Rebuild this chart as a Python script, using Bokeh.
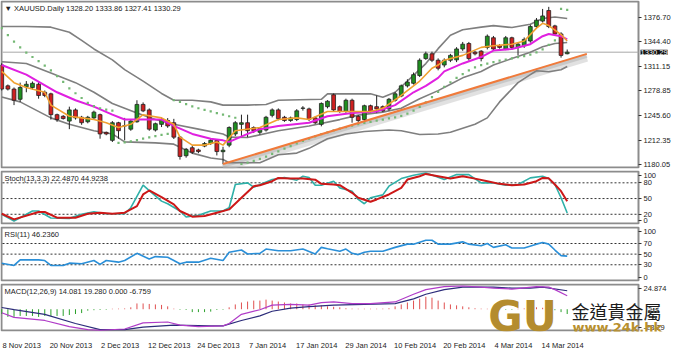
import numpy as np
from bokeh.plotting import figure
from bokeh.models import Range1d, FixedTicker, Label, ColumnDataSource
from bokeh.layouts import column
from bokeh.embed import file_html
from bokeh.resources import INLINE
from bokeh.transform import dodge

FONT = "Liberation Sans"
FS = "7.5px"

# ---------------- data ----------------
bar_open = [1313.1,1285.2,1280.9,1267.2,1283.9,1283.0,1287.3,1276.6,1274.5,1246.6,
            1244.4,1238.0,1253.0,1243.1,1237.1,1242.3,1246.6,1222.9,1212.2,1235.8,
            1231.5,1227.2,1237.1,1260.3,1253.0,1226.0,1233.6,1238.8,1235.8,1216.5,
            1191.6,1202.3,1199.3,1204.5,1208.0,1212.2,1197.0,1205.8,1220.8,1233.6,
            1235.8,1229.4,1223.0,1226.0,1245.7,1253.0,1243.1,1238.8,1240.1,1255.1,
            1254.3,1242.3,1233.6,1257.3,1273.2,1257.3,1250.9,1265.9,1244.4,1240.1,
            1258.6,1257.3,1257.3,1254.3,1265.9,1271.5,1285.2,1288.6,1299.0,1321.7,
            1328.1,1319.5,1313.1,1319.5,1320.0,1334.6,1341.9,1330.3,1331.6,1336.7,
            1349.6,1338.9,1334.6,1349.6,1336.7,1338.9,1345.3,1364.6,1371.9,1386.1,
            1365.5,1354.7,1328.20]
bar_high = [1315.5,1287.0,1283.0,1289.5,1291.6,1291.0,1291.6,1279.0,1276.0,1248.0,
            1246.0,1257.3,1255.0,1245.0,1245.0,1252.0,1248.0,1224.0,1238.0,1237.0,
            1242.3,1240.0,1265.9,1263.0,1255.0,1236.0,1243.0,1242.0,1241.0,1218.0,
            1202.0,1205.0,1201.0,1210.0,1214.0,1214.0,1203.6,1231.0,1238.0,1246.6,
            1246.6,1231.0,1230.0,1245.0,1255.0,1255.0,1245.0,1244.0,1254.0,1258.0,
            1256.0,1244.0,1263.0,1266.0,1275.0,1259.0,1268.0,1268.0,1246.0,1260.0,
            1260.0,1272.3,1259.0,1269.0,1277.0,1287.0,1294.0,1303.0,1322.0,1331.0,
            1331.0,1322.0,1322.0,1328.0,1337.0,1344.0,1344.0,1332.0,1333.0,1354.0,
            1352.0,1341.0,1352.0,1351.0,1343.0,1350.0,1367.0,1376.0,1388.2,1391.0,
            1367.0,1357.0,1333.86]
bar_low = [1279.0,1279.0,1259.4,1263.7,1276.6,1280.0,1268.0,1270.0,1240.0,1237.0,
           1240.0,1227.2,1240.0,1233.0,1235.0,1240.0,1214.4,1219.0,1210.0,1214.4,
           1212.2,1225.0,1235.8,1250.0,1225.0,1224.0,1230.0,1229.0,1214.0,1186.4,
           1189.0,1194.0,1195.0,1203.0,1206.0,1192.0,1180.5,1203.0,1218.0,1216.5,
           1216.5,1222.0,1220.0,1224.0,1243.0,1239.0,1237.0,1237.0,1238.0,1252.0,
           1238.0,1234.0,1231.0,1255.0,1251.0,1249.0,1249.0,1235.8,1236.0,1238.0,
           1249.0,1248.7,1250.0,1252.0,1264.0,1270.0,1283.0,1287.0,1297.0,1320.0,
           1317.0,1306.0,1310.0,1317.0,1317.0,1332.0,1319.0,1326.0,1318.0,1334.0,
           1332.0,1335.0,1333.0,1334.0,1326.0,1336.0,1343.0,1362.0,1370.0,1362.5,
           1352.0,1323.0,1327.41]
bar_close = [1280.9,1280.9,1265.9,1283.0,1287.3,1288.6,1272.3,1272.3,1246.6,1240.1,
             1241.4,1253.0,1242.3,1235.8,1243.1,1250.0,1220.8,1220.8,1235.8,1225.1,
             1231.9,1238.0,1260.3,1251.7,1227.2,1234.5,1240.1,1231.5,1216.5,1190.7,
             1200.2,1196.3,1197.2,1207.9,1212.2,1197.2,1199.0,1229.4,1235.8,1235.8,
             1225.1,1225.1,1228.5,1243.1,1253.0,1241.4,1238.8,1242.3,1251.7,1255.5,
             1240.1,1235.8,1261.6,1264.6,1253.0,1250.9,1265.9,1243.1,1238.8,1258.6,
             1250.9,1254.3,1251.7,1267.2,1274.5,1285.2,1290.3,1300.2,1319.5,1328.1,
             1319.5,1308.8,1319.5,1326.0,1334.6,1341.0,1321.7,1328.1,1321.7,1351.7,
             1334.6,1336.7,1349.6,1336.7,1341.0,1347.4,1364.6,1373.2,1378.8,1364.6,
             1354.7,1326.0,1330.29]

bb_up_bar = [0,4,8,11,13,15,18,20,23,26,28,31,34,36,40,43,45,52,53,60,62,64,66,69,71,73,75,78,80,83,86,88,90,92]
bb_up_val = [1364.6,1364.6,1363.8,1357.0,1346.0,1334.6,1320.0,1307.0,1291.6,1275.0,1265.9,1265.9,1263.7,1259.4,
             1259.4,1260.3,1265.9,1267.2,1274.5,1274.5,1269.9,1276.6,1291.6,1315.0,1335.0,1353.0,1360.3,1363.8,
             1365.9,1363.3,1367.6,1375.4,1377.5,1375.4]
bb_mid_bar = [0,4,8,12,15,18,22,25,28,32,36,37,40,45,50,55,58,62,65,68,71,73,75,78,80,83,86,88,90,92]
bb_mid_val = [1317.4,1315.2,1302.4,1289.5,1276.6,1261.6,1248.7,1240.1,1233.7,1227.2,1220.8,1216.5,1216.0,1225.1,
              1231.5,1240.0,1246.0,1250.0,1255.1,1268.0,1278.8,1287.3,1295.9,1304.5,1313.1,1321.7,1330.3,1337.6,
              1341.9,1343.2]
bb_low_bar = [0,3,8,11,15,18,20,25,28,31,34,36,37,42,45,48,50,53,56,59,63,65,68,71,73,77,79,81,84,86,87,89,91,92]
bb_low_val = [1270.2,1263.7,1242.3,1233.7,1225.1,1220.8,1210.1,1208.8,1207.1,1195.1,1188.6,1186.5,1182.2,1182.2,
              1192.9,1195.1,1201.5,1214.4,1220.8,1224.0,1226.0,1225.1,1220.0,1220.8,1223.0,1233.7,1242.3,1263.7,
              1289.5,1300.2,1305.4,1304.1,1306.7,1311.0]
ma_slow_bar = [0,4,9,12,15,18,20,23,26,28,31,34,36,37,40,42,45,50,53,57,61,64,67,69,71,72,75,78,80,83,86,88,89,91,92]
ma_slow_val = [1313.1,1300.2,1276.6,1265.9,1257.3,1246.6,1240.1,1240.1,1240.1,1231.5,1220.8,1214.4,1212.2,1210.1,
               1220.8,1227.2,1231.5,1235.8,1244.4,1248.7,1250.9,1259.4,1276.6,1285.2,1295.9,1304.5,1315.2,1323.8,
               1332.4,1334.6,1341.0,1351.7,1354.7,1351.7,1347.4]
ma_fast_bar = [0,2,4,7,8,11,13,15,17,19,21,23,26,28,29,31,33,35,36,38,42,45,48,50,53,57,60,62,65,68,70,71,72,75,
               78,80,83,85,87,88,89,91,92]
ma_fast_val = [1304.5,1289.5,1283.0,1276.6,1259.4,1244.4,1242.3,1240.1,1235.8,1229.4,1233.7,1246.6,1242.3,1233.7,
               1216.5,1205.8,1205.8,1210.1,1205.8,1225.1,1229.4,1240.1,1242.3,1240.1,1250.9,1250.9,1250.9,1255.1,
               1272.3,1291.6,1308.8,1313.1,1319.5,1326.0,1336.7,1338.9,1341.0,1345.3,1362.5,1368.9,1365.9,1353.9,
               1345.3]
sar_val = [1362.5,1353.0,1344.4,1336.7,1329.8,1323.8,1318.3,1312.2,1305.8,1298.1,
           1290.4,1281.8,1275.3,1268.9,1262.4,1258.1,1255.2,1253.4,1252.1,1208.8,
           1209.6,1210.9,1212.6,1214.4,1216.1,1217.8,1219.5,1220.8,1265.9,1263.7,
           1260.7,1257.7,1255.2,1253.0,1250.9,1248.7,1246.6,1244.5,1242.5,1180.5,
           1182.5,1184.8,1187.5,1190.5,1194.0,1197.5,1201.0,1204.5,1208.0,1211.5,
           1214.5,1217.5,1220.5,1223.0,1225.5,1228.0,1230.0,1232.0,1234.0,1235.5,
           1237.0,1238.5,1240.0,1241.5,1243.0,1245.0,1248.0,1252.0,1257.0,1263.0,
           1270.0,1277.0,1284.0,1290.0,1296.0,1301.0,1306.0,1310.0,1313.0,1315.0,
           1317.0,1319.0,1320.5,1322.0,1323.5,1325.0,1327.0,1330.0,1334.0,1340.0,
           1346.0,1388.2,1387.0]
trend_bar = [36, 95.2]
trend_val = [1180.5, 1328.0]
last_price = 1330.29

stoch_k_bar = [0,2,5,6,8,11,13,15,17,20,21,23,24,26,27,29,30,32,34,36,37,38,40,41,44,46,48,49,50,51,52,54,55,57,58,
               59,60,62,63,65,67,69,70,72,74,76,78,80,82,84,86,88,89,90,91,92]
stoch_k_val = [20,7.2,26.2,26.2,13,12.2,20,24.9,21,21,32.5,75.5,65,45.1,40,26.2,14.8,18,26.2,26.2,32.5,76.8,79.9,
               71.7,86.2,90,85,92.6,90,75.5,75.5,83.1,70.4,64.1,48.3,40.1,51.5,57,73.6,88.1,94.5,98.9,95,86.2,95.7,
               95.7,79.9,79.9,75.5,76.8,89.4,92.6,88.1,76.8,51.5,22.487]
stoch_d_bar = [0,2,6,7,9,12,14,16,18,20,22,23,24,26,28,29,31,33,35,37,39,41,42,44,45,47,49,51,52,54,55,57,58,60,61,
               63,65,66,68,69,71,73,75,77,79,81,83,85,87,88,89,90,91,92]
stoch_d_val = [21,10.3,24.3,24.3,13.5,13.5,21,23,21,23,35.6,57.8,65.4,52.7,38.8,26.2,15.4,16.7,23,29.3,51.5,73.6,
               75.5,83.1,89.4,88.1,88.1,86,78,76.8,75.5,61,51.5,43.9,48.3,57.8,70.4,86.2,92.6,97,92.6,88.1,92.6,88,
               83.1,78,75.5,76.8,83.1,89.4,88.5,76.8,64.1,44.9238]
stoch_levels = [80, 50, 20]
stoch_ticks = [100, 80, 50, 20, 0]

rsi_bar = [0,2,3,6,7,8,10,11,13,15,16,17,19,20,22,24,25,27,29,30,32,34,36,37,39,40,42,43,45,47,49,51,52,53,54,55,
           56,57,58,59,60,62,64,66,67,69,70,71,73,75,76,78,79,80,82,83,85,87,88,89,90,91,92]
rsi_val = [33,28.7,39.2,39.2,38,28.7,28.7,33,31.8,38,30.6,38,34.9,38,51.5,41,45.4,44,31.8,34.9,34.9,42.3,38,53.4,
           57.7,50.3,51.5,59.6,56.5,56.5,59.6,50.3,62.7,60,57.7,55.3,59.6,51.5,49.1,53.4,55.3,55.3,62.7,68.8,68.8,
           76.2,76.2,68.8,68.8,73.1,68.8,65.7,70,62.7,67.6,61.4,61.4,68.8,71.9,68.8,57.7,47.2,46.236]
rsi_levels = [70, 50, 30]
rsi_ticks = [100, 70, 50, 30, 0]

macd_main_bar = [0,2,7,11,14,16,20,23,27,29,32,36,37,39,42,44,47,50,52,54,57,60,64,67,69,72,75,78,80,83,87,89,90,92]
macd_main_val = [-3.7,-8.5,-11.7,-18.1,-21.3,-21.9,-20.6,-14.2,-13.3,-16.5,-18.1,-17.4,-14.9,-5.3,-0.5,4.3,5.0,4.3,
                 6.9,7.6,5.9,5.9,7.6,15.6,20.4,23.6,24.2,23.0,22.0,21.0,23.6,23.0,20.4,14.081]
macd_sig_bar = [0,2,7,12,16,20,23,28,34,36,39,42,44,47,50,54,59,64,67,69,72,75,80,83,86,88,92]
macd_sig_val = [1.8,-0.5,-5.3,-14.9,-21.3,-21.3,-18.7,-16.5,-17.4,-17.4,-11.7,-6.9,-2.1,1.1,2.7,4.3,5.0,5.9,10.8,
                15.6,20.4,23.0,23.0,22.0,22.0,23.0,19.28]
macd_hist = [-5,-8,-8,-7,-7,-7,-8,-7,-7,-7,-7,-6,-5,-4,-1.5,-1,-0.8,-0.6,0.5,0.6,
             0.8,2,6,6,5.5,5,4.5,3,0.6,-0.6,-0.8,-3,-3,-3,-2.5,-0.8,-0.6,2,5,7,
             8,9,9,10,9,8,7,6,6,5,5,4,4,3,2.5,2,1,0.6,0.5,0.5,
             0.5,0.5,0.6,1,3,5,7,9,11,13,12,9,7,5,4,3,2,1,0.6,0.5,
             -0.5,-0.5,-0.6,-0.6,0.5,0.8,1.5,2,1.5,0.6,-1,-3,-5]

price_ticks = [1180.05, 1212.35, 1245.60, 1278.85, 1311.15, 1344.40, 1376.70]
price_tick_labels = ["1180.05", "1212.35", "1245.60", "1278.85", "1311.15", "1344.40", "1376.70"]
macd_tick_labels = ["24.874", "-23.29"]
date_bars = [0, 8, 16, 24, 32, 40, 48, 56, 64, 72, 80, 88]
date_labels = ["8 Nov 2013", "20 Nov 2013", "2 Dec 2013", "12 Dec 2013", "24 Dec 2013", "7 Jan 2014",
               "17 Jan 2014", "29 Jan 2014", "10 Feb 2014", "20 Feb 2014", "4 Mar 2014", "14 Mar 2014"]

title_main = "\u25bc XAUUSD.Daily  1328.20 1333.86 1327.41 1330.29"
title_stoch = "Stoch(13,3,3) 22.4870 44.9238"
title_rsi = "RSI(11) 46.2360"
title_macd = "MACD(12,26,9) 14.081 19.280 0.000 -6.759"

# ---------------- layout ----------------
TOTAL_W = 671          # full frame width (chart area + price-scale area)
CHART_W = 638          # width of the bordered chart area
XR = (-0.2, 103.6)     # bar range of the bordered chart area
PPB = CHART_W / (XR[1] - XR[0])
X_FULL = XR[0] + TOTAL_W / PPB
MAIN_H, MAIN_Y = 168, (1174.5, 1399.5)
ST_H, ST_Y = 54, (0.5, 103.5)
RS_H, RS_Y = 55, (-1.5, 102.0)
MC_H, MC_Y = 48, (-23.2, 26.8)
BORDER = "#8c8c8c"

def xpx(px):
    return XR[0] + px / PPB

def ypx(rng, fh, px):
    return rng[1] - px * (rng[1] - rng[0]) / fh

def inner_ticks(vals, rng, fh, edge_px=4.5):
    # keep edge labels inside the panel, like the terminal does
    per_px = (rng[1] - rng[0]) / fh
    out = []
    for v in vals:
        if v > rng[1] - edge_px * per_px:
            out.append(ypx(rng, fh, edge_px))
        elif v < rng[0] + edge_px * per_px:
            out.append(ypx(rng, fh, fh - edge_px))
        else:
            out.append(float(v))
    return out

x_range = Range1d(XR[0], X_FULL)

def make_fig(fh, yr, bottom_axis=False):
    p = figure(frame_width=TOTAL_W, frame_height=fh, x_range=x_range, y_range=Range1d(*yr),
               output_backend="svg", toolbar_location=None, y_axis_location="right",
               x_axis_location="below" if bottom_axis else None,
               min_border_left=0, min_border_right=0, min_border_top=0,
               min_border_bottom=0 if bottom_axis else 2,
               background_fill_color="white", border_fill_color="white",
               outline_line_color=None)
    p.grid.visible = False
    p.yaxis.fixed_location = XR[1]
    for ax in p.yaxis:
        ax.axis_line_color = None
        ax.major_tick_out = 3
        ax.major_tick_in = 0
        ax.major_tick_line_color = "#333333"
        ax.minor_tick_line_color = None
        ax.major_label_text_font = FONT
        ax.major_label_text_font_size = FS
        ax.major_label_text_color = "#222222"
        ax.major_label_standoff = 2
    # bordered chart area
    p.quad(left=[xpx(1)], right=[XR[1]], bottom=[ypx(yr, fh, fh - 1)], top=[ypx(yr, fh, 1)],
           fill_color=None, line_color=BORDER, line_width=2)
    return p

def set_ticks(p, vals, labels, rng, fh):
    pos = inner_ticks(vals, rng, fh)
    p.yaxis.ticker = FixedTicker(ticks=pos)
    p.yaxis.major_label_overrides = dict(zip(pos, labels))

def panel_title(p, rng, fh, text):
    p.add_layout(Label(x=xpx(4), y=ypx(rng, fh, 3), text=text, text_font=FONT,
                       text_font_size=FS, text_color="#222222", text_baseline="top"))

# ---------------- main price panel ----------------
pm = make_fig(MAIN_H, MAIN_Y)
set_ticks(pm, price_ticks, price_tick_labels, MAIN_Y, MAIN_H)

idx = np.arange(len(bar_open))
o = np.array(bar_open); c = np.array(bar_close)
up = c >= o
csrc = ColumnDataSource(dict(x=idx, hi=bar_high, lo=bar_low,
                             top=np.maximum(o, c), bot=np.minimum(o, c),
                             col=np.where(up, "#1f8f1f", "#cf2020")))

pm.segment(x0=[xpx(2)], y0=[last_price], x1=[XR[1]], y1=[last_price], line_color="#a8a8a8", line_width=1)

tsrc = ColumnDataSource(dict(x=trend_bar, y=trend_val))
pm.line(x="x", y=dodge("y", -5.0, range=pm.y_range), source=tsrc, line_color="#bdbdbd",
        line_width=8, line_alpha=0.45)
pm.line(x="x", y=dodge("y", -2.5, range=pm.y_range), source=tsrc, line_color="#9a9a9a",
        line_width=4, line_alpha=0.35)

pm.line(bb_up_bar, bb_up_val, line_color="#7f7f7f", line_width=1.6)
pm.line(bb_mid_bar, bb_mid_val, line_color="#7f7f7f", line_width=1.6)
pm.line(bb_low_bar, bb_low_val, line_color="#7f7f7f", line_width=1.6)

pm.segment(x0="x", y0="lo", x1="x", y1="hi", source=csrc, line_color="#222222", line_width=1)
pm.vbar(x="x", top="top", bottom="bot", width=0.62, source=csrc, fill_color="col",
        line_color="#222222", line_width=0.8)

pm.line(ma_slow_bar, ma_slow_val, line_color="#e020e0", line_width=2)
pm.line(ma_fast_bar, ma_fast_val, line_color="#f0a030", line_width=1.6)
pm.scatter(idx, sar_val, marker="square", size=2.2, fill_color="#74b874", line_color=None)

pm.line(trend_bar, trend_val, line_color="#f07a3a", line_width=2)

panel_title(pm, MAIN_Y, MAIN_H, title_main)
pm.add_layout(Label(x=XR[1], y=last_price, x_offset=2, text=f"{last_price:.2f}", text_font=FONT,
                    text_font_size=FS, text_color="white", text_baseline="middle",
                    background_fill_color="#111111"))

# ---------------- stochastic ----------------
ps = make_fig(ST_H, ST_Y)
set_ticks(ps, stoch_ticks, [str(v) for v in stoch_ticks], ST_Y, ST_H)
for lv in stoch_levels:
    ps.segment(x0=[xpx(2)], y0=[lv], x1=[XR[1]], y1=[lv], line_color="#333333", line_width=1, line_dash="2 2")
ps.line(stoch_k_bar, stoch_k_val, line_color="#2fb0a8", line_width=1.6)
ps.line(stoch_d_bar, stoch_d_val, line_color="#cc1818", line_width=2)
panel_title(ps, ST_Y, ST_H, title_stoch)

# ---------------- RSI ----------------
pr = make_fig(RS_H, RS_Y)
set_ticks(pr, rsi_ticks, [str(v) for v in rsi_ticks], RS_Y, RS_H)
for lv in rsi_levels:
    pr.segment(x0=[xpx(2)], y0=[lv], x1=[XR[1]], y1=[lv], line_color="#333333", line_width=1, line_dash="2 2")
pr.line(rsi_bar, rsi_val, line_color="#2a8fd8", line_width=1.6)
panel_title(pr, RS_Y, RS_H, title_rsi)

# ---------------- MACD ----------------
pc = make_fig(MC_H, MC_Y, bottom_axis=True)
mt = [ypx(MC_Y, MC_H, 5), ypx(MC_Y, MC_H, MC_H - 4.5)]
pc.yaxis.ticker = FixedTicker(ticks=mt)
pc.yaxis.major_label_overrides = dict(zip(mt, macd_tick_labels))
hist = np.array(macd_hist, dtype=float)
hsrc = ColumnDataSource(dict(x=idx, top=np.maximum(hist, 0), bot=np.minimum(hist, 0),
                             col=np.where(hist >= 0, "#e05050", "#2aa02a")))
pc.segment(x0="x", y0="bot", x1="x", y1="top", source=hsrc, line_color="col", line_width=1)
pc.line(macd_sig_bar, macd_sig_val, line_color="#2c2c7a", line_width=1.2)
pc.line(macd_main_bar, macd_main_val, line_color="#b03cc8", line_width=1.2)
panel_title(pc, MC_Y, MC_H, title_macd)

off = 20 / PPB
date_ticks = [b + off for b in date_bars]
pc.xaxis.ticker = FixedTicker(ticks=date_ticks)
pc.xaxis.major_label_overrides = dict(zip(date_ticks, date_labels))
pc.xaxis.axis_line_color = None
pc.xaxis.major_tick_line_color = None
pc.xaxis.minor_tick_line_color = None
pc.xaxis.major_label_standoff = 3
pc.xaxis.major_label_text_font = FONT
pc.xaxis.major_label_text_font_size = FS
pc.xaxis.major_label_text_color = "#222222"

# watermark logo
pc.add_layout(Label(x=xpx(522), y=ypx(MC_Y, MC_H, 33), text="GU", text_font="DejaVu Sans",
                    text_font_style="bold", text_font_size="42px", text_color="#b48c2e",
                    text_align="center", text_baseline="middle"))
pc.add_layout(Label(x=xpx(571), y=ypx(MC_Y, MC_H, 27), text="金道貴金屬", text_font="Noto Sans CJK TC",
                    text_font_size="18px", text_color="#1c1c1c", text_baseline="middle"))
pc.add_layout(Label(x=xpx(572), y=ypx(MC_Y, MC_H, 44), text="www.24k.hk", text_font="DejaVu Sans",
                    text_font_style="bold", text_font_size="13px", text_color="#b8902f",
                    text_baseline="middle"))

layout = column(pm, ps, pr, pc, spacing=0)
open("out.html", "w").write(file_html(layout, INLINE))
